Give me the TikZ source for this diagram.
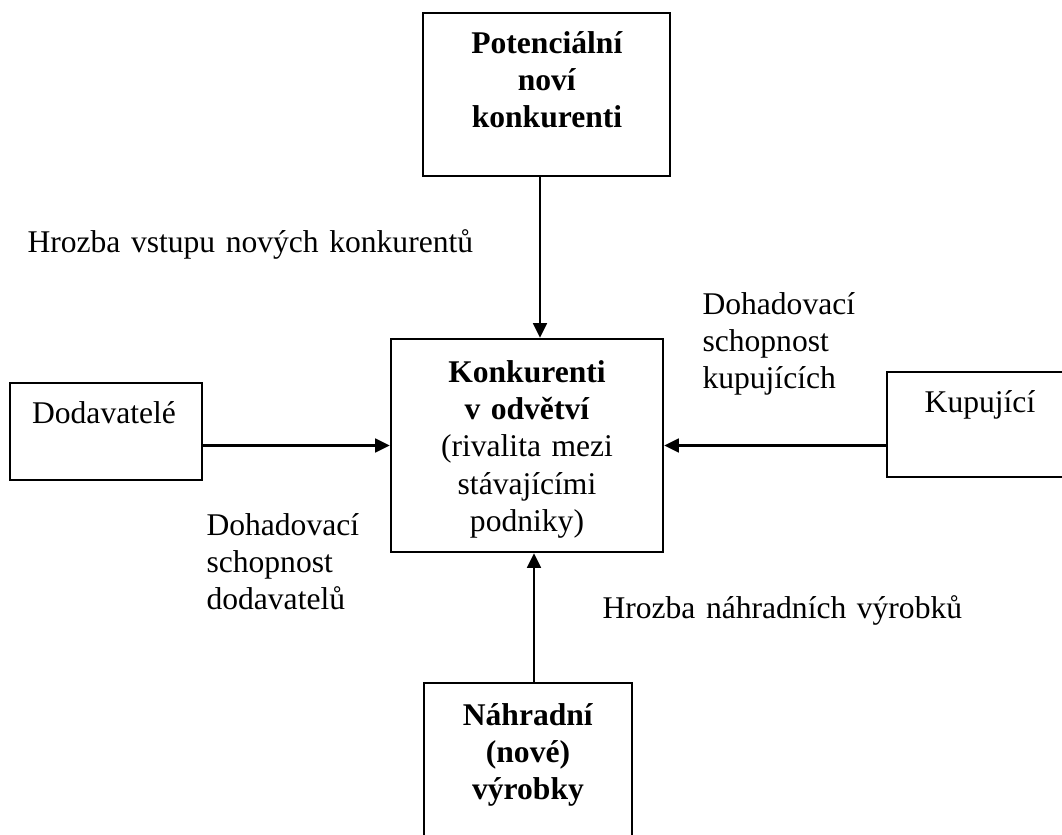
\documentclass[tikz,border=0pt]{standalone}
\usepackage{fontspec}
\setmainfont{Liberation Serif}
\usetikzlibrary{arrows.meta}
\newcommand\pxu{0.01335cm}

\begin{document}
\begin{tikzpicture}[x=\pxu,y=-\pxu,
  every node/.style={font=\fontsize{12}{14.2}\selectfont},
  box/.style={rectangle,draw,line width=0.9pt,inner sep=0pt},
  boxtext/.style={inner sep=0pt,align=center,anchor=base},
  note/.style={inner sep=0pt,align=left,anchor=base west},
  flow/.style={-{Triangle[length=5.6pt,width=5.2pt]},line width=1pt}]
\clip (0,0) rectangle (1062,834);
\fill[white] (0,0) rectangle (1062,834);
\node[box,minimum width=247*\pxu,minimum height=163*\pxu] (new) at (546.5,94.5) {};
\node[box,minimum width=272*\pxu,minimum height=213*\pxu] (rivals) at (527,445.5) {};
\node[box,minimum width=192*\pxu,minimum height=97*\pxu] (supp) at (106,431.5) {};
\node[box,minimum width=186*\pxu,minimum height=105*\pxu] (buyers) at (980,424.5) {};
\node[box,minimum width=208*\pxu,minimum height=163*\pxu] (subst) at (528,764.5) {};
\node[boxtext,text width=230*\pxu] (newtxt) at (547,53)
  {\textbf{Potenciální}\\\textbf{noví}\\\textbf{konkurenti}};
\node[boxtext,text width=250*\pxu] (rivalstxt) at (527,382)
  {\textbf{Konkurenti}\\\textbf{v odvětví}\\(rivalita mezi\\stávajícími\\podniky)};
\node[boxtext,text width=180*\pxu] (supptxt) at (104,423) {Dodavatelé};
\node[boxtext,text width=180*\pxu] (buyerstxt) at (980,412) {Kupující};
\node[boxtext,text width=200*\pxu] (substtxt) at (528,725)
  {\textbf{Náhradní}\\\textbf{(nové)}\\\textbf{výrobky}};
\node[note,text width=470*\pxu] (threatnew) at (27,252) {Hrozba vstupu nových konkurentů};
\node[note,text width=170*\pxu] (buyerpower) at (702,314) {Dohadovací\\schopnost\\kupujících};
\node[note,text width=170*\pxu] (supppower) at (206,535) {Dohadovací\\schopnost\\dodavatelů};
\node[note,text width=380*\pxu] (threatsub) at (602,618) {Hrozba náhradních výrobků};
\draw[flow] ([xshift=-6.5*\pxu]new.south) -- ([xshift=13*\pxu]rivals.north);
\draw[flow] (supp.east |- rivals.west) -- (rivals.west);
\draw[flow] (buyers.west |- rivals.east) -- (rivals.east);
\draw[flow] ([xshift=6*\pxu]subst.north) -- ([xshift=7*\pxu]rivals.south);
\end{tikzpicture}
\end{document}
